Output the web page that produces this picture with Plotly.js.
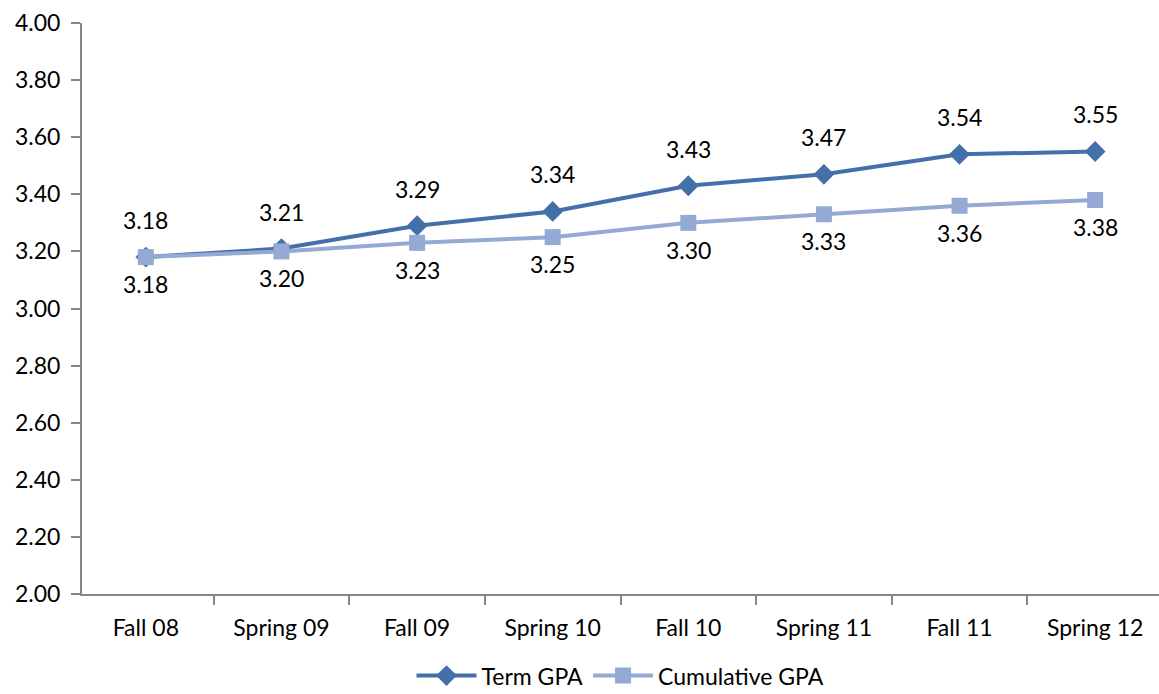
<!DOCTYPE html>
<html><head><meta charset="utf-8">
<script src="https://cdn.plot.ly/plotly-3.0.1.min.js"></script>
<style>html,body{margin:0;padding:0;background:#fff}#c{width:1159px;height:694px}</style>
</head><body><div id="c"></div>
<script>
const terms = ["Fall 08","Spring 09","Fall 09","Spring 10","Fall 10","Spring 11","Fall 11","Spring 12"];
const termGPA = [3.18,3.21,3.29,3.34,3.43,3.47,3.54,3.55];
const cumulativeGPA = [3.18,3.20,3.23,3.25,3.30,3.33,3.36,3.38];
const yTicks = [2.0,2.2,2.4,2.6,2.8,3.0,3.2,3.4,3.6,3.8,4.0];

const font = {family: "Lato, 'Open Sans', sans-serif", size: 23, color: "#000"};
const termColor = "#4470AA";
const cumColor = "#94A9D3";

const traces = [
  {x: terms, y: termGPA, name: "Term GPA", type: "scatter", mode: "lines+markers",
   line: {color: termColor, width: 4}, marker: {symbol: "diamond", size: 16, color: termColor}},
  {x: terms, y: cumulativeGPA, name: "Cumulative GPA", type: "scatter", mode: "lines+markers",
   line: {color: cumColor, width: 4}, marker: {symbol: "square", size: 16, color: cumColor}}
];

const annotations = [];
terms.forEach((t,i)=>{
  annotations.push({x: t, y: termGPA[i], text: termGPA[i].toFixed(2), showarrow: false,
    yshift: 37, font: font});
  annotations.push({x: t, y: cumulativeGPA[i], text: cumulativeGPA[i].toFixed(2), showarrow: false,
    yshift: -27, font: font});
});

const layout = {
  width: 1159, height: 694,
  margin: {l: 82, r: 0, t: 23, b: 100, autoexpand: false},
  paper_bgcolor: "#fff", plot_bgcolor: "#fff",
  font: font,
  showlegend: true,
  legend: {orientation: "h", x: 0.5, xanchor: "center", y: -0.143, yanchor: "middle",
    font: font, itemwidth: 60, tracegroupgap: 0},
  xaxis: {type: "category", automargin: false, showgrid: false, showline: true, linecolor: "#868686", linewidth: 2,
    ticks: "outside", ticklen: 9, tickcolor: "#868686", tickwidth: 2, tickson: "boundaries",
    ticklabelstandoff: 12, tickfont: font, zeroline: false, fixedrange: true},
  yaxis: {range: [2, 4], automargin: false, tickvals: yTicks, ticktext: yTicks.map(v=>v.toFixed(2)),
    showgrid: false, showline: true, linecolor: "#868686", linewidth: 2,
    ticks: "outside", ticklen: 9, tickcolor: "#868686", tickwidth: 2, zeroline: false,
    tickfont: font, ticklabelstandoff: 6},
  annotations: annotations
};
Plotly.newPlot("c", traces, layout, {displayModeBar: false, staticPlot: true});
</script></body></html>
